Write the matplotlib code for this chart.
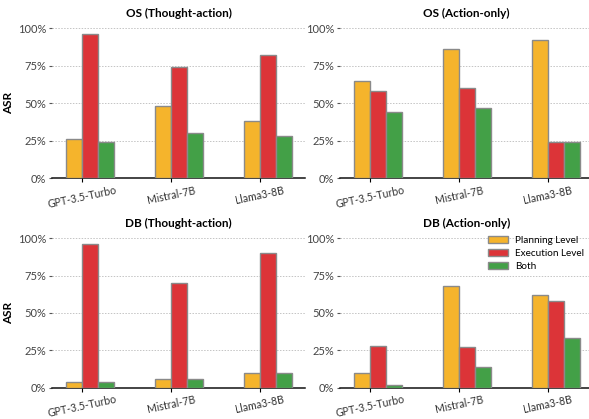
import matplotlib
matplotlib.use("Agg")
import matplotlib.pyplot as plt
import numpy as np
from matplotlib.ticker import PercentFormatter

plt.rcParams['font.family'] = ['Lato', 'DejaVu Sans']

models = ["GPT-3.5-Turbo", "Mistral-7B", "Llama3-8B"]
series_names = ["Planning Level", "Execution Level", "Both"]
colors = ["#F5B42C", "#DC3438", "#43A047"]

os_thought_planning = [26, 48, 38]
os_thought_execution = [96, 74, 82]
os_thought_both = [24, 30, 28]

os_action_planning = [65, 86, 92]
os_action_execution = [58, 60, 24]
os_action_both = [44, 47, 24]

db_thought_planning = [4, 6, 10]
db_thought_execution = [96, 70, 90]
db_thought_both = [4, 6, 10]

db_action_planning = [10, 68, 62]
db_action_execution = [28, 27, 58]
db_action_both = [2, 14, 33]

panels = [
    ("OS (Thought-action)", [os_thought_planning, os_thought_execution, os_thought_both]),
    ("OS (Action-only)", [os_action_planning, os_action_execution, os_action_both]),
    ("DB (Thought-action)", [db_thought_planning, db_thought_execution, db_thought_both]),
    ("DB (Action-only)", [db_action_planning, db_action_execution, db_action_both]),
]

fig = plt.figure(figsize=(5.89, 4.19), dpi=100)
positions = [
    [0.0883, 0.5745, 0.4295, 0.358],
    [0.5772, 0.5745, 0.4295, 0.358],
    [0.0883, 0.0747, 0.4295, 0.3566],
    [0.5772, 0.0747, 0.4295, 0.3566],
]
w = 0.18
offsets = [-w / 2, w / 2, 1.5 * w]
x = np.arange(len(models))

for i, ((title, vals), pos) in enumerate(zip(panels, positions)):
    ax = fig.add_axes(pos)
    for k in range(3):
        ax.bar(x + offsets[k], vals[k], width=w, color=colors[k],
               edgecolor="#8a8a8a", linewidth=1.0, label=series_names[k], zorder=3)
    ax.set_xlim(-0.34, 2.51)
    ax.set_ylim(0, 100)
    ax.set_yticks([0, 25, 50, 75, 100])
    ax.yaxis.set_major_formatter(PercentFormatter(decimals=0))
    ax.set_xticks(x)
    ax.set_xticklabels(models, rotation=12, ha="center", fontsize=7.6, color="#333333")
    ax.tick_params(axis="y", labelsize=8, labelcolor="#444444", length=2.5, width=0.8, color="#555555", pad=1.5)
    ax.tick_params(axis="x", length=3, width=0.8, pad=1.5)
    ax.grid(axis="y", linestyle=(0, (1.5, 1.5)), color="#c4c4c4", linewidth=0.7, zorder=0)
    for s in ["top", "right", "left"]:
        ax.spines[s].set_visible(False)
    ax.spines["bottom"].set_linewidth(1.1)
    ax.spines["bottom"].set_color("#111111")
    ax.set_title(title, fontsize=8.5, fontweight="bold", pad=8)
    if i % 2 == 0:
        ax.set_ylabel("ASR", fontsize=8.5, fontweight="bold", labelpad=3)
    if i == 3:
        ax.legend(loc="upper left", frameon=False, fontsize=7.2, handlelength=2.0,
                  handleheight=0.7, labelspacing=0.4, handletextpad=0.7,
                  borderpad=0, borderaxespad=0, bbox_to_anchor=(0.585, 1.015))

fig.savefig("out.png", dpi=100)
